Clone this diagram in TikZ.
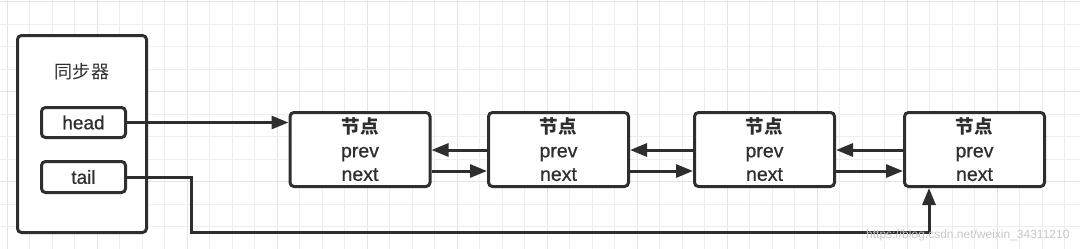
\documentclass[tikz,border=0pt]{standalone}
\usepackage{fontspec}
\setmainfont{Liberation Sans}
\newfontfamily\txt{Liberation Sans}[FakeBold=0.7]
\newfontfamily\cjk{Noto Sans CJK SC}[Scale=0.95]
\usetikzlibrary{arrows.meta,calc}
\definecolor{ink}{HTML}{2E2E2E}
\definecolor{gridminor}{HTML}{EEEEEE}
\definecolor{gridmajor}{HTML}{E4E4E4}
\tikzset{
  box/.style={draw=ink,line width=3pt,rounded corners=4pt,fill=white,inner sep=0pt,text=ink},
  lnode/.style={box,minimum width=140pt,minimum height=74pt,align=center,font=\txt\fontsize{19.5}{23.5}\selectfont},
  field/.style={box,minimum width=84pt,minimum height=30pt,font=\txt\fontsize{19}{22}\selectfont},
  conn/.style={draw=ink,line width=3pt,-{Triangle[length=17pt,width=13pt]}},
}
\begin{document}
\begin{tikzpicture}[x=1pt,y=-1pt]
\useasboundingbox (0,0) rectangle (1080,249);
\fill[white] (0,0) rectangle (1080,249);
% grid
\foreach \k in {0,...,47}{
  \pgfmathsetmacro\gx{7.3+22.5*\k}
  \pgfmathtruncatemacro\m{mod(\k,4)}
  \ifnum\m=0 \draw[gridmajor,line width=1.2pt] (\gx,0) -- (\gx,249);
  \else \draw[gridminor,line width=1pt] (\gx,0) -- (\gx,249);\fi
}
\foreach \k in {0,...,11}{
  \pgfmathsetmacro\gy{1.7+22.5*\k}
  \pgfmathtruncatemacro\m{mod(\k,4)}
  \ifnum\m=0 \draw[gridmajor,line width=1.2pt] (0,\gy) -- (1080,\gy);
  \else \draw[gridminor,line width=1pt] (0,\gy) -- (1080,\gy);\fi
}
% synchronizer
\node[box,minimum width=129pt,minimum height=197pt] (sync) at (82,134) {};
\node[text=ink,font=\cjk\fontsize{19}{22}\selectfont] (title) at (82,72) {同步器};
\node[field] (head) at (83.5,122.5) {head};
\node[field,minimum height=31pt] (tail) at (83.5,177) {tail};
% list nodes
\node[lnode] (n1) at (360,149.5) {{\cjk\bfseries 节点}\\prev\\next};
\node[lnode] (n2) at (558.5,149.5) {{\cjk\bfseries 节点}\\prev\\next};
\node[lnode] (n3) at (764.5,149.5) {{\cjk\bfseries 节点}\\prev\\next};
\node[lnode] (n4) at (974.5,149.5) {{\cjk\bfseries 节点}\\prev\\next};
% head pointer
\draw[conn] (head.east) -- (head.east -| n1.west);
% prev / next links
\foreach \a/\b in {n1/n2,n2/n3,n3/n4}{
  \draw[conn] ([yshift=-0.5pt]\b.west) -- ([yshift=-0.5pt]\b.west -| \a.east);
  \draw[conn] ([yshift=-21.5pt]\a.east) -- ([yshift=-21.5pt]\a.east -| \b.west);
}
% tail pointer
\coordinate (t1) at (191,177);
\coordinate (t2) at (191,232);
\coordinate (t3) at (929,232);
\draw[conn,rounded corners=0pt] (tail.east) -- (t1) -- (t2) -- (t3) -- (t3 |- n4.south);
% watermark
\node[text=black!22,font=\fontsize{12}{14}\selectfont,anchor=east] (wm) at (1073,235) {https://blog.csdn.net/weixin\_34311210};
\end{tikzpicture}
\end{document}
